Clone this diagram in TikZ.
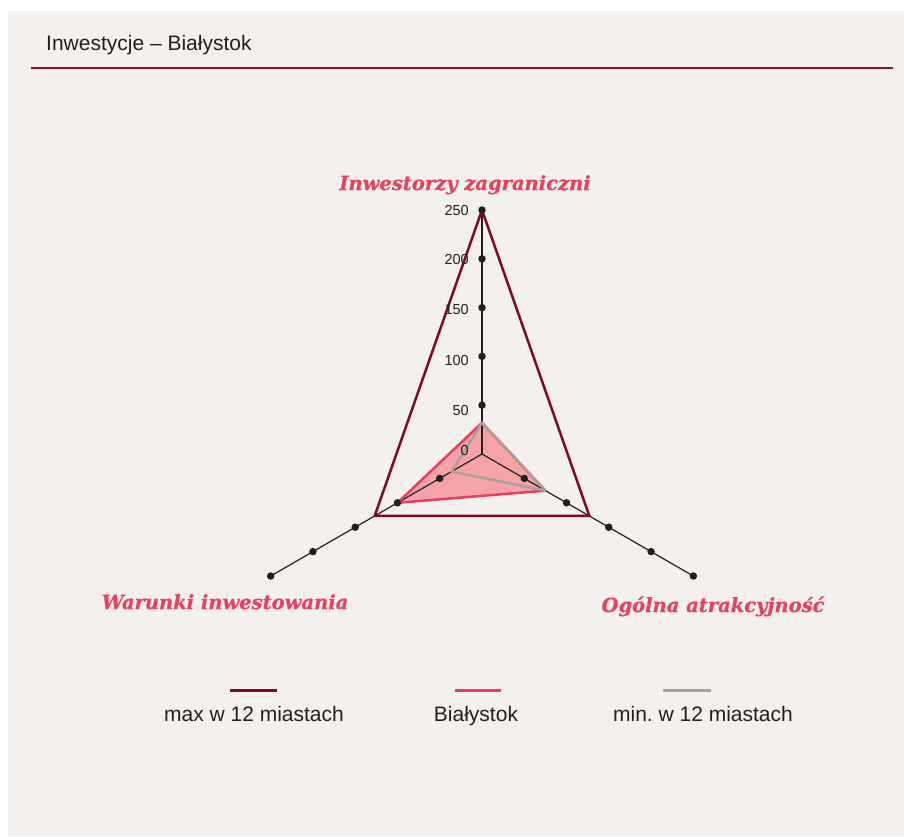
\documentclass[tikz,border=0pt]{standalone}
\usepackage{fontspec}
\setmainfont{Liberation Sans}
\newfontfamily\labfont[FakeBold=0.6]{DejaVu Serif}
\usetikzlibrary{calc}
\definecolor{bg}{HTML}{F4F0ED}
\definecolor{maxc}{HTML}{7F0A26}
\definecolor{hdrc}{HTML}{8C1230}
\definecolor{pinkc}{HTML}{EB3C64}
\definecolor{fillc}{HTML}{F5A3A7}
\definecolor{grayc}{HTML}{A9A099}
\definecolor{darkc}{HTML}{231F20}
\definecolor{labc}{HTML}{E8415F}
\tikzset{
  axisline/.style={draw=darkc, line width=1.2pt},
  tickdot/.style={circle, fill=darkc, inner sep=0pt, minimum size=7.5pt},
  ticklab/.style={anchor=east, inner sep=0pt, text=darkc, font=\fontsize{14.5}{16}\selectfont},
  axlab/.style={inner sep=0pt, anchor=base, text=labc, font=\labfont\bfseries\itshape\fontsize{19.5}{24}\selectfont},
  legtext/.style={inner sep=0pt, anchor=base, text=darkc, font=\fontsize{21}{24}\selectfont},
  maxline/.style={draw=maxc, line width=2.5pt, line join=round},
  bialine/.style={draw=pinkc, line width=2.5pt, line join=round},
  minline/.style={draw=grayc, line width=2.5pt, line join=round},
}
\begin{document}
\begin{tikzpicture}[x=1pt,y=-1pt]
\useasboundingbox (0,0) rectangle (904,836);
\fill[bg] (8,11) rectangle (904,836);
% header
\node[anchor=west, inner sep=0pt, text=darkc, font=\fontsize{21}{24}\selectfont] (title) at (46,45) {Inwestycje – Białystok};
\coordinate (h1) at (31,68);
\coordinate (h2) at (893,68);
\draw[hdrc, line width=2pt] (h1) -- (h2);
% radar geometry
\def\sc{0.976}
\coordinate (c) at (482,454);
\coordinate (aT) at ($(c)+(-90:{250*\sc})$);
\coordinate (aR) at ($(c)+(30:{250*\sc})$);
\coordinate (aL) at ($(c)+(150:{250*\sc})$);
\coordinate (mx1) at ($(c)+(-90:{250*\sc})$);
\coordinate (mx2) at ($(c)+(30:{127*\sc})$);
\coordinate (mx3) at ($(c)+(150:{127*\sc})$);
\coordinate (b1) at ($(c)+(-90:{32*\sc})$);
\coordinate (b2) at ($(c)+(30:{75*\sc})$);
\coordinate (b3) at ($(c)+(150:{100*\sc})$);
\coordinate (m1) at ($(c)+(-90:{32*\sc})$);
\coordinate (m2) at ($(c)+(30:{75*\sc})$);
\coordinate (m3) at ($(c)+(150:{36*\sc})$);
% fill
\fill[fillc] (b1) -- (b2) -- (b3) -- cycle;
% axes
\draw[axisline] (c) -- (aT);
\draw[axisline] (c) -- (aR);
\draw[axisline] (c) -- (aL);
% polygons
\draw[maxline] (mx1) -- (mx2) -- (mx3) -- cycle;
\draw[bialine] (b1) -- (b2) -- (b3) -- cycle;
\draw[minline] (m1) -- (m2) -- (m3) -- cycle;
% dots
\foreach \v in {50,100,150,200,250}{
  \node[tickdot] (dT\v) at ($(c)+(-90:{\v*\sc})$) {};
  \node[tickdot] (dR\v) at ($(c)+(30:{\v*\sc})$) {};
  \node[tickdot] (dL\v) at ($(c)+(150:{\v*\sc})$) {};
}
% tick labels
\node[ticklab] (t250) at (469,211) {250};
\node[ticklab] (t200) at (469,260) {200};
\node[ticklab] (t150) at (469,310) {150};
\node[ticklab] (t100) at (469,360) {100};
\node[ticklab] (t50) at (469,410) {50};
\node[ticklab] (t0) at (469,450) {0};
% axis labels
\node[axlab] (labT) at (465,190) {Inwestorzy zagraniczni};
\node[axlab] (labL) at (225,609) {Warunki inwestowania};
\node[axlab] (labR) at (713,612) {Ogólna atrakcyjność};
% legend
\coordinate (l1a) at (230,690); \coordinate (l1b) at (277,690);
\coordinate (l2a) at (455,690); \coordinate (l2b) at (501,690);
\coordinate (l3a) at (663,690); \coordinate (l3b) at (711,690);
\draw[maxc, line width=3pt] (l1a) -- (l1b);
\draw[pinkc, line width=3pt] (l2a) -- (l2b);
\draw[grayc, line width=3pt] (l3a) -- (l3b);
\node[legtext] (g1) at (254,721) {max w 12 miastach};
\node[legtext] (g2) at (476,721) {Białystok};
\node[legtext] (g3) at (703,721) {min.\ w 12 miastach};
\end{tikzpicture}
\end{document}
